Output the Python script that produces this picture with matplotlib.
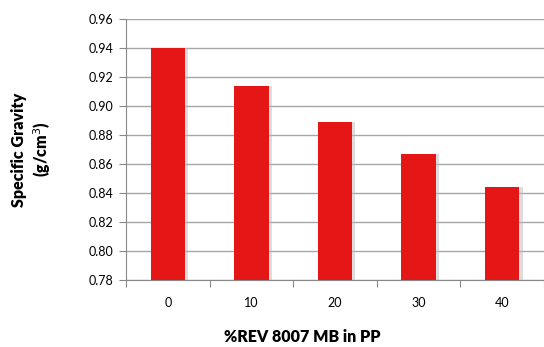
import matplotlib
matplotlib.use("Agg")
import matplotlib.pyplot as plt
import numpy as np

plt.rcParams['font.family'] = ['Lato', 'DejaVu Sans']

categories = ['0', '10', '20', '30', '40']
specific_gravity = [0.940, 0.914, 0.889, 0.867, 0.844]
y_ticks = [0.78, 0.80, 0.82, 0.84, 0.86, 0.88, 0.90, 0.92, 0.94, 0.96]

fig = plt.figure(figsize=(5.44, 3.47), dpi=100)
ax = fig.add_axes([0.2316, 0.193, 0.7684, 0.752])

x = np.arange(len(categories))
base = 0.78
heights = [v - base for v in specific_gravity]

# soft shadow on right side, then the bars
ax.bar(x + 0.04, heights, width=0.41, bottom=base, color='#bdbdbd', alpha=0.5, zorder=2)
ax.bar(x, heights, width=0.41, bottom=base, color='#e41616', zorder=3)

ax.set_xlim(-0.5, len(categories) - 0.5)
ax.set_ylim(0.78, 0.96)
ax.set_yticks(y_ticks)
ax.set_yticklabels(['%.2f' % t for t in y_ticks], fontsize=9)
ax.set_xticks(x)
ax.set_xticklabels(categories, fontsize=9)
ax.set_xticks(np.arange(-0.5, len(categories)), minor=True)
ax.tick_params(axis='x', which='major', length=0, pad=12)
ax.tick_params(axis='x', which='minor', length=5, color='#888888', width=0.8)
ax.tick_params(axis='y', length=5, color='#888888', width=0.8, pad=4)

ax.grid(axis='y', color='#a6a6a6', linewidth=1.0, zorder=0)
ax.set_axisbelow(True)
for s in ['top', 'right']:
    ax.spines[s].set_visible(False)
for s in ['left', 'bottom']:
    ax.spines[s].set_color('#888888')
    ax.spines[s].set_linewidth(0.8)

ax.set_ylabel('Specific Gravity\n(g/cm$^3$)', fontsize=11.5, fontweight='heavy', labelpad=26,
              linespacing=1.25)
fig.text(0.555, 0.028, '%REV 8007 MB in PP', fontsize=11.5, fontweight='heavy', ha='center', va='center')

fig.savefig('out.png', dpi=100)
